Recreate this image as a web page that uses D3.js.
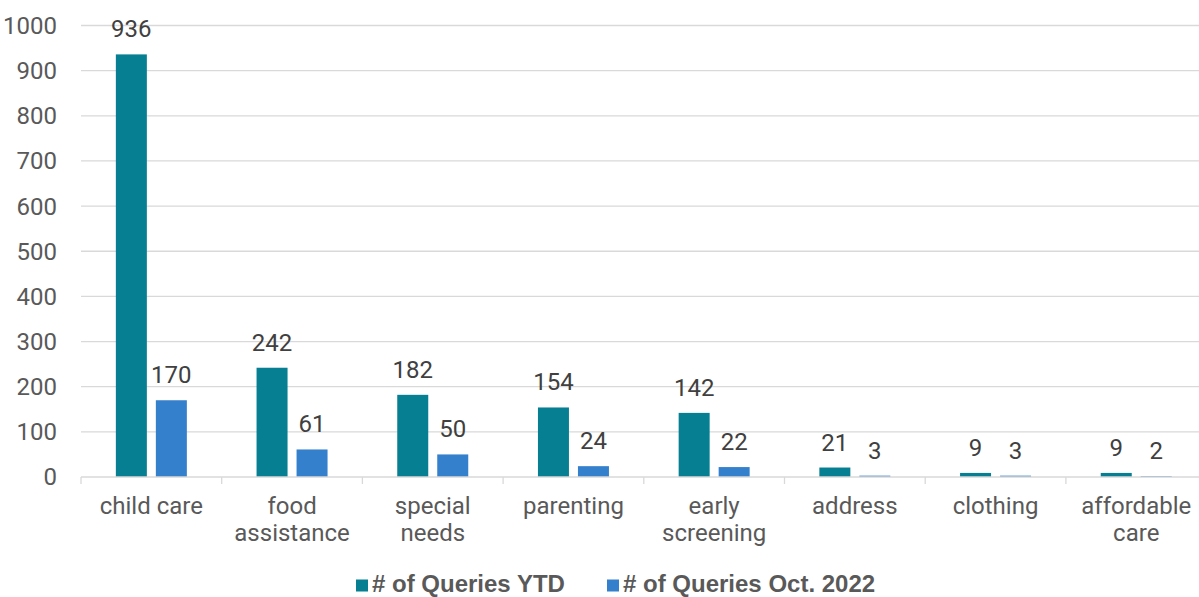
<!DOCTYPE html>
<html><head><meta charset="utf-8">
<script src="https://cdn.jsdelivr.net/npm/d3@7"></script>
<style>body{margin:0;background:#fff}svg{display:block}</style>
</head><body>
<svg id="c" width="1199" height="597"></svg>
<script>
const categories = [["child care"],["food","assistance"],["special","needs"],["parenting"],["early","screening"],["address"],["clothing"],["affordable","care"]];
const seriesNames = ["# of Queries YTD","# of Queries Oct. 2022"];
const ytd = [936,242,182,154,142,21,9,9];
const oct = [170,61,50,24,22,3,3,2];
const colors = ["#077f92","#3580cc"];
const yTicks = [0,100,200,300,400,500,600,700,800,900,1000];

(function(){
const svg = d3.select("#c");
const left = 81, bandW = 140.7, plotTop = 25.5, bottom = 477;
const x = d3.scaleBand().domain(d3.range(categories.length)).range([left, left + bandW*categories.length]).paddingInner(0).paddingOuter(0);
const y = d3.scaleLinear().domain([0,1000]).range([bottom, plotTop]);
const barW = 31, gap = 9;
const font = "Roboto, 'Liberation Sans', sans-serif";

svg.append("g").selectAll("line").data(yTicks.filter(d=>d>0)).join("line")
  .attr("x1", left).attr("x2", 1199).attr("y1", d=>y(d)).attr("y2", d=>y(d))
  .attr("stroke", "#d9d9d9").attr("stroke-width", 1.3);

svg.append("g").selectAll("text").data(yTicks).join("text")
  .attr("x", 57).attr("y", d=>y(d)).attr("dy", "0.35em").attr("text-anchor","end")
  .attr("font-family", font).attr("font-size", 24).attr("fill", "#595959").text(d=>d);

const series = [ytd, oct];
series.forEach((vals, si) => {
  const g = svg.append("g");
  g.selectAll("rect").data(vals).join("rect")
    .attr("x", (d,i)=> x(i) + (bandW - 2*barW - gap)/2 + si*(barW+gap))
    .attr("y", d=>y(d)).attr("width", barW).attr("height", d=>bottom - y(d))
    .attr("fill", colors[si]);
  g.selectAll("text").data(vals).join("text")
    .attr("x", (d,i)=> x(i) + (bandW - 2*barW - gap)/2 + si*(barW+gap) + barW/2)
    .attr("y", d=>y(d) - 17).attr("text-anchor","middle")
    .attr("font-family", font).attr("font-size", 24).attr("fill", "#404040").text(d=>d);
});

svg.append("line").attr("x1", left).attr("x2", 1199).attr("y1", bottom).attr("y2", bottom)
  .attr("stroke", "#d9d9d9").attr("stroke-width", 1.3);
svg.append("g").selectAll("line").data(d3.range(categories.length+1)).join("line")
  .attr("x1", d=>left + d*bandW).attr("x2", d=>left + d*bandW)
  .attr("y1", bottom).attr("y2", bottom+7).attr("stroke","#d9d9d9").attr("stroke-width",1.3);

const cl = svg.append("g").selectAll("text").data(categories).join("text")
  .attr("text-anchor","middle").attr("font-family", font).attr("font-size", 24).attr("fill","#595959");
cl.each(function(lines, i){
  const t = d3.select(this);
  lines.forEach((ln, k) => {
    t.append("tspan").attr("x", x(i) + bandW/2).attr("y", 513.5 + k*27.5).text(ln);
  });
});

const lg = svg.append("g");
const legX = [356, 607];
seriesNames.forEach((n, i) => {
  lg.append("rect").attr("x", legX[i]).attr("y", 579.5).attr("width", 12).attr("height", 12).attr("fill", colors[i]);
  lg.append("text").attr("x", legX[i] + 16).attr("y", 592.3)
    .attr("font-family", "'Liberation Sans', Arial, sans-serif").attr("font-weight","bold")
    .attr("font-size", 24).attr("fill","#595959").text(n);
});
})();
</script>
</body></html>
